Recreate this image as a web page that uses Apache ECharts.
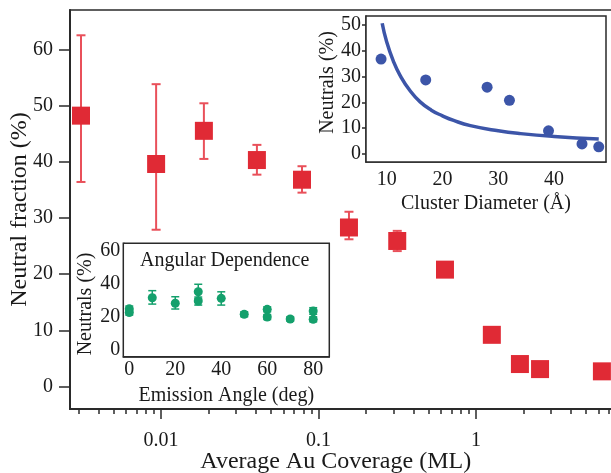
<!DOCTYPE html>
<html>
<head>
<meta charset="utf-8">
<script src="https://cdn.jsdelivr.net/npm/echarts@6/dist/echarts.min.js"></script>
<style>
html,body{margin:0;padding:0;background:#fff;}
#chart{width:611px;height:473px;}
</style>
</head>
<body>
<div id="chart"></div>
<script>
// ---- Main plot data ----
const coverage = [0.0031, 0.0093, 0.0187, 0.0406, 0.0785, 0.156, 0.316, 0.635, 1.26, 1.90, 2.55, 6.3];
const neutralFraction = [48.2, 39.6, 45.5, 40.3, 36.8, 28.3, 25.9, 20.8, 9.2, 4.0, 3.1, 2.7];
const neutralLow  = [36.4, 27.9, 40.5, 37.7, 34.5, 26.2, 24.1];
const neutralHigh = [62.5, 53.8, 50.4, 43.0, 39.2, 31.1, 27.7];
const mainXMajorTicks = [0.01, 0.1, 1];
const mainXMinorTicks = [0.003, 0.004, 0.005, 0.006, 0.007, 0.008, 0.009,
  0.02, 0.03, 0.04, 0.05, 0.06, 0.07, 0.08, 0.09,
  0.2, 0.3, 0.4, 0.5, 0.6, 0.7, 0.8, 0.9,
  2, 3, 4, 5, 6, 7, 8, 9];
const mainYTicks = [0, 10, 20, 30, 40, 50, 60];

// ---- Inset 1: cluster diameter ----
const clusterDiameter = [9, 17, 28, 32, 39, 45, 48];
const clusterNeutrals = [36.8, 28.7, 25.9, 20.8, 9.0, 3.9, 2.8];
const fitDiameter = [9.2, 10, 11.2, 12.4, 14.2, 16, 18, 20, 22, 25, 30, 34, 40, 48];
const fitNeutrals = [50.7, 43.5, 36.0, 30.5, 24.5, 20.2, 17.0, 14.8, 13.0, 11.0, 9.0, 7.9, 6.8, 5.8];
const inset1XTicks = [10, 20, 30, 40];
const inset1YTicks = [0, 10, 20, 30, 40, 50];

// ---- Inset 2: angular dependence ----
const emissionAngle = [0, 0, 10, 20, 30, 30, 40, 50, 60, 60, 70, 80, 80];
const angleNeutrals = [24.8, 22.5, 31.6, 28.2, 35.2, 29.6, 31.2, 21.5, 24.5, 19.8, 18.6, 23.5, 18.4];
const angleLow  = [23.0, 21.0, 27.7, 24.7, 31.0, 27.1, 27.1, 20.0, 23.0, 18.3, 17.3, 21.5, 16.9];
const angleHigh = [26.5, 24.0, 35.9, 32.2, 39.8, 32.0, 35.2, 23.0, 26.0, 21.3, 19.9, 25.5, 19.9];
const inset2XTicks = [0, 20, 40, 60, 80];
const inset2YTicks = [0, 20, 40, 60];
const inset2YMinorTicks = [10, 30, 50];

const FONT = 'Liberation Serif';
const RED = '#e02a35';
const RED_BAR = '#e9505a';
const BLUE = '#3c55a8';
const GREEN = '#14a06c';
const AXIS = '#2a2a2a';

function errorBars(capHalf, color, width) {
  return function (params, api) {
    const x = api.value(0), lo = api.value(1), hi = api.value(2);
    const a = api.coord([x, lo]);
    const b = api.coord([x, hi]);
    const st = { stroke: color, lineWidth: width };
    return {
      type: 'group',
      children: [
        { type: 'line', shape: { x1: a[0], y1: a[1], x2: b[0], y2: b[1] }, style: st },
        { type: 'line', shape: { x1: a[0] - capHalf, y1: a[1], x2: a[0] + capHalf, y2: a[1] }, style: st },
        { type: 'line', shape: { x1: b[0] - capHalf, y1: b[1], x2: b[0] + capHalf, y2: b[1] }, style: st }
      ]
    };
  };
}

const labelStyle = { fontFamily: FONT, fontSize: 20, color: '#1a1a1a' };
const lineMain = { onZero: false, lineStyle: { color: AXIS, width: 2 } };
const lineInset = { onZero: false, lineStyle: { color: AXIS, width: 1.5 } };
const noLine = { show: false, onZero: false };

const chart = echarts.init(document.getElementById('chart'), null, { renderer: 'canvas' });
chart.setOption({
  animation: false,
  backgroundColor: '#fff',
  title: {
    text: 'Angular Dependence',
    left: 140, top: 251, padding: 0,
    textStyle: { fontFamily: FONT, fontSize: 20, fontWeight: 'normal', color: '#1a1a1a' }
  },
  grid: [
    { left: 70, top: 10, right: -22.5, bottom: 64, show: true, borderColor: AXIS, borderWidth: 1.5, containLabel: false, outerBoundsMode: 'none' },
    { left: 366, top: 16, width: 240, height: 146, show: true, backgroundColor: '#fff', borderColor: AXIS, borderWidth: 1.5, z: 5, containLabel: false, outerBoundsMode: 'none' },
    { left: 123.3, top: 243.3, width: 206, height: 113.4, show: true, backgroundColor: '#fff', borderColor: AXIS, borderWidth: 1.5, z: 5, containLabel: false, outerBoundsMode: 'none' }
  ],
  xAxis: [
    {
      type: 'log', gridIndex: 0, min: 0.00264, max: 10, position: 'bottom',
      axisLine: lineMain,
      axisTick: { customValues: mainXMajorTicks, length: 10, lineStyle: { color: AXIS, width: 1.5 } },
      axisLabel: { customValues: mainXMajorTicks, margin: 22, formatter: v => String(v), ...labelStyle },
      splitLine: { show: false }, minorTick: { show: false },
      name: 'Average Au Coverage (ML)', nameLocation: 'middle', nameGap: 41, nameMoveOverlap: false,
      nameTextStyle: { fontFamily: FONT, fontSize: 24, color: '#1a1a1a', padding: [0, 32, 0, 0] }
    },
    {
      type: 'log', gridIndex: 0, min: 0.00264, max: 10, position: 'bottom',
      axisLine: noLine,
      axisTick: { customValues: mainXMinorTicks, length: 5, lineStyle: { color: AXIS, width: 1.5 } },
      axisLabel: { show: false }, splitLine: { show: false }
    },
    {
      type: 'value', gridIndex: 1, min: 6.3, max: 49.3, position: 'bottom',
      axisLine: lineInset,
      axisTick: { customValues: inset1XTicks, inside: true, length: 10, lineStyle: { color: AXIS, width: 1.5 } },
      axisLabel: { customValues: inset1XTicks, margin: 8, ...labelStyle },
      splitLine: { show: false },
      name: 'Cluster Diameter (Å)', nameLocation: 'middle', nameGap: 32, nameMoveOverlap: false,
      nameTextStyle: { fontFamily: FONT, fontSize: 20, color: '#1a1a1a' }
    },
    {
      type: 'value', gridIndex: 2, min: -2.6, max: 87, position: 'bottom',
      axisLine: lineInset,
      axisTick: { customValues: inset2XTicks, inside: true, length: 10, lineStyle: { color: AXIS, width: 1.5 } },
      axisLabel: { customValues: inset2XTicks, margin: 3, ...labelStyle },
      splitLine: { show: false },
      name: 'Emission Angle (deg)', nameLocation: 'middle', nameGap: 29, nameMoveOverlap: false,
      nameTextStyle: { fontFamily: FONT, fontSize: 20, color: '#1a1a1a' }
    }
  ],
  yAxis: [
    {
      type: 'value', gridIndex: 0, min: -4, max: 67, position: 'left',
      axisLine: lineMain,
      axisTick: { customValues: mainYTicks, length: 11, lineStyle: { color: AXIS, width: 1.5 } },
      axisLabel: { customValues: mainYTicks, margin: 17, ...labelStyle },
      splitLine: { show: false },
      name: 'Neutral fraction (%)', nameLocation: 'middle', nameGap: 38, nameMoveOverlap: false,
      nameTextStyle: { fontFamily: FONT, fontSize: 24, color: '#1a1a1a' }
    },
    {
      type: 'value', gridIndex: 1, min: -3.1, max: 53.5, position: 'left',
      axisLine: lineInset,
      axisTick: { customValues: inset1YTicks, length: 4, lineStyle: { color: AXIS, width: 1.5 } },
      axisLabel: { customValues: inset1YTicks, margin: 5, ...labelStyle },
      splitLine: { show: false },
      name: 'Neutrals (%)', nameLocation: 'middle', nameGap: 28, nameMoveOverlap: false,
      nameTextStyle: { fontFamily: FONT, fontSize: 20, color: '#1a1a1a', padding: [0, 0, 0, 13] }
    },
    {
      type: 'value', gridIndex: 1, min: -3.1, max: 53.5, position: 'left',
      axisLine: noLine,
      axisTick: { customValues: inset1YTicks, inside: true, length: 10, lineStyle: { color: AXIS, width: 1.5 } },
      axisLabel: { show: false }, splitLine: { show: false }
    },
    {
      type: 'value', gridIndex: 2, min: -4.4, max: 64.8, position: 'left',
      axisLine: lineInset,
      axisTick: { customValues: inset2YTicks, inside: true, length: 8, lineStyle: { color: AXIS, width: 1.5 } },
      axisLabel: { customValues: inset2YTicks, margin: 3, ...labelStyle },
      splitLine: { show: false },
      name: 'Neutrals (%)', nameLocation: 'middle', nameGap: 28, nameMoveOverlap: false,
      nameTextStyle: { fontFamily: FONT, fontSize: 20, color: '#1a1a1a', padding: [0, 8, 0, 0] }
    },
    {
      type: 'value', gridIndex: 2, min: -4.4, max: 64.8, position: 'left',
      axisLine: noLine,
      axisTick: { customValues: inset2YMinorTicks, inside: true, length: 4, lineStyle: { color: AXIS, width: 1.5 } },
      axisLabel: { show: false }, splitLine: { show: false }
    }
  ],
  series: [
    {
      type: 'custom', xAxisIndex: 0, yAxisIndex: 0, z: 2,
      renderItem: errorBars(4.5, RED_BAR, 2),
      data: neutralLow.map((lo, i) => [coverage[i], lo, neutralHigh[i]])
    },
    {
      type: 'scatter', xAxisIndex: 0, yAxisIndex: 0, z: 3,
      symbol: 'rect', symbolSize: 18,
      itemStyle: { color: RED, opacity: 1 },
      data: coverage.map((x, i) => [x, neutralFraction[i]])
    },
    {
      type: 'line', xAxisIndex: 2, yAxisIndex: 1, z: 6,
      smooth: true, showSymbol: false,
      lineStyle: { color: BLUE, width: 3.5 },
      data: fitDiameter.map((x, i) => [x, fitNeutrals[i]])
    },
    {
      type: 'scatter', xAxisIndex: 2, yAxisIndex: 1, z: 7,
      symbol: 'circle', symbolSize: 11,
      itemStyle: { color: BLUE, opacity: 1 },
      data: clusterDiameter.map((x, i) => [x, clusterNeutrals[i]])
    },
    {
      type: 'custom', xAxisIndex: 3, yAxisIndex: 3, z: 6,
      renderItem: errorBars(4, GREEN, 1.5),
      data: emissionAngle.map((x, i) => [x, angleLow[i], angleHigh[i]])
    },
    {
      type: 'scatter', xAxisIndex: 3, yAxisIndex: 3, z: 7,
      symbol: 'circle', symbolSize: 9,
      itemStyle: { color: GREEN, opacity: 1 },
      data: emissionAngle.map((x, i) => [x, angleNeutrals[i]])
    }
  ]
});
</script>
</body>
</html>
